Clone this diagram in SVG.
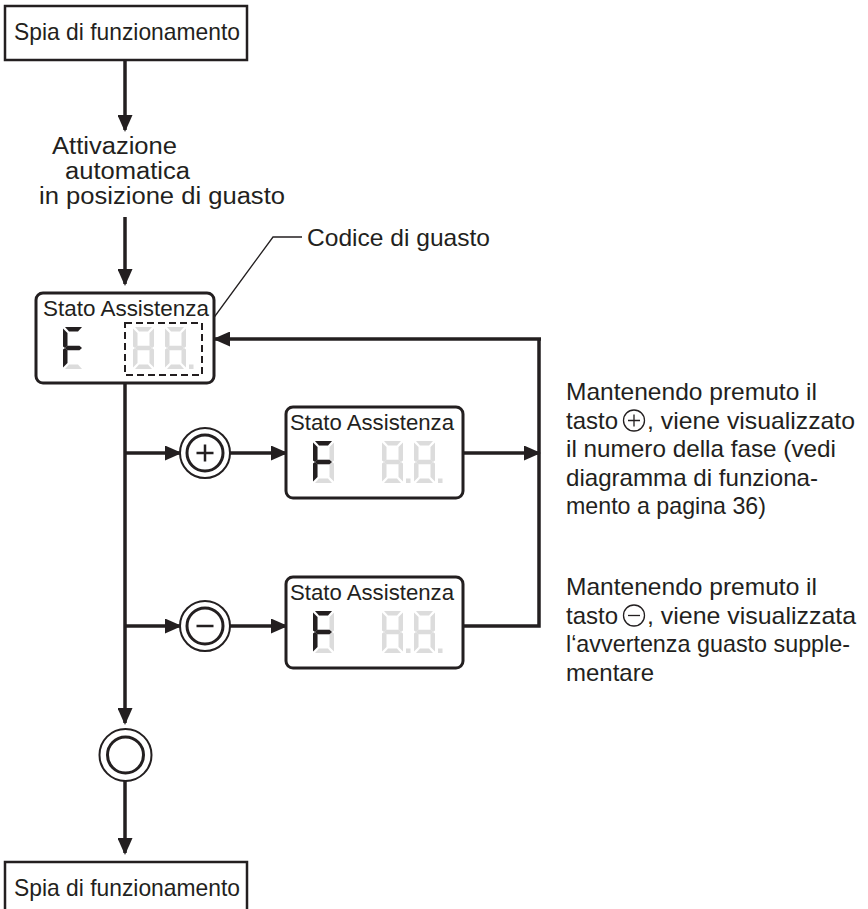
<svg xmlns="http://www.w3.org/2000/svg" xmlns:xlink="http://www.w3.org/1999/xlink" width="868" height="909" viewBox="0 0 868 909">
  <style>
    text { font-family: "Liberation Sans", Arial, sans-serif; fill: #231f20; }
    .lbl { font-size: 24px; }
    .lbl-s { font-size: 23px; }
    .disp { font-size: 22px; }
    .box { fill: #fff; stroke: #231f20; stroke-width: 2.5; }
    .panel { fill: #fff; stroke: #231f20; stroke-width: 3; }
    .wire { fill: none; stroke: #231f20; stroke-width: 3.5; }
    .arrow { fill: none; stroke: #231f20; stroke-width: 3.5; marker-end: url(#arr); }
    .ring { fill: #fff; stroke: #231f20; stroke-width: 2; }
    .ring-in { fill: none; stroke: #231f20; stroke-width: 3; }
    .thin { fill: none; stroke: #231f20; stroke-width: 1.3; }
    .dash { fill: none; stroke: #231f20; stroke-width: 2; stroke-dasharray: 7 4; }
    .on { fill: #231f20; }
    .off { fill: #dcdcdc; }
  </style>
  <defs>
    <marker id="arr" markerUnits="userSpaceOnUse" markerWidth="17" markerHeight="15" refX="15" refY="7.5" orient="auto">
      <path d="M0,0 L17,7.5 L0,15 Z" fill="#231f20"/>
    </marker>
    <!-- seven-segment elements, digit cell 21 x 42 -->
    <polygon id="sa" points="2,0 19,0 15,4.5 6,4.5"/>
    <polygon id="sb" points="21,1.5 21,19.5 19,21 16.5,19 16.5,6"/>
    <polygon id="sc" points="21,22.5 21,40.5 16.5,36 16.5,23 19,21"/>
    <polygon id="sd" points="6,37.5 15,37.5 19,42 2,42"/>
    <polygon id="se" points="0,22.5 2,21 4.5,23 4.5,36 0,40.5"/>
    <polygon id="sf" points="0,1.5 4.5,6 4.5,19 2,21 0,19.5"/>
    <polygon id="sg" points="2,21 4.5,18.7 16.5,18.7 19,21 16.5,23.3 4.5,23.3"/>
    <rect id="dp" x="24" y="37.5" width="4.5" height="4.5"/>
    <g id="d8">
      <use xlink:href="#sa"/><use xlink:href="#sb"/><use xlink:href="#sc"/><use xlink:href="#sd"/>
      <use xlink:href="#se"/><use xlink:href="#sf"/><use xlink:href="#sg"/>
    </g>
    <g id="lit">
      <use xlink:href="#sa"/><use xlink:href="#sf"/><use xlink:href="#sg"/><use xlink:href="#se"/>
    </g>
    <!-- display panel: lit F followed by two blank digits with points -->
    <g id="panel">
      <rect class="panel" x="0" y="0" width="177" height="91" rx="7"/>
      <text class="disp" x="4" y="23" textLength="164" lengthAdjust="spacingAndGlyphs">Stato Assistenza</text>
      <g class="off">
        <use xlink:href="#d8" x="27" y="34"/>
        <use xlink:href="#d8" x="96" y="34"/>
        <use xlink:href="#dp" x="96" y="34"/>
        <use xlink:href="#d8" x="128" y="34"/>
        <use xlink:href="#dp" x="128" y="34"/>
      </g>
      <g class="on" transform="translate(27 34)"><use xlink:href="#lit"/></g>
    </g>
  </defs>

  <!-- connectors -->
  <g id="connectors">
    <line class="arrow" x1="125" y1="60" x2="125" y2="130"/>
    <line class="arrow" x1="125" y1="217" x2="125" y2="284"/>
    <line class="arrow" x1="125" y1="383" x2="125" y2="723"/>
    <line class="arrow" x1="125" y1="781" x2="125" y2="853"/>
    <line class="arrow" x1="125" y1="453" x2="180" y2="453"/>
    <line class="arrow" x1="230" y1="453" x2="286" y2="453"/>
    <line class="arrow" x1="463" y1="453" x2="539" y2="453"/>
    <line class="arrow" x1="125" y1="626" x2="180" y2="626"/>
    <line class="arrow" x1="230" y1="626" x2="286" y2="626"/>
    <polyline class="wire" points="463,626 539,626 539,339"/>
    <line class="arrow" x1="541" y1="339" x2="215" y2="339"/>
    <polyline class="thin" points="302,237 273,237 196,342"/>
  </g>

  <!-- start state -->
  <g id="start">
    <rect class="box" x="5" y="6" width="242" height="54"/>
    <text class="lbl" x="14" y="40" textLength="226" lengthAdjust="spacingAndGlyphs">Spia di funzionamento</text>
  </g>

  <g id="auto-label">
    <text class="lbl-s" x="52" y="154" textLength="125" lengthAdjust="spacingAndGlyphs">Attivazione</text>
    <text class="lbl-s" x="65" y="179" textLength="125" lengthAdjust="spacingAndGlyphs">automatica</text>
    <text class="lbl-s" x="39" y="204" textLength="246" lengthAdjust="spacingAndGlyphs">in posizione di guasto</text>
  </g>

  <!-- fault display -->
  <g id="fault-display">
    <rect class="panel" x="36" y="293" width="178" height="90" rx="7"/>
    <text class="disp" x="43" y="316" textLength="166" lengthAdjust="spacingAndGlyphs">Stato Assistenza</text>
    <g transform="translate(63 327)">
      <use class="on" xlink:href="#lit"/>
      <use class="off" xlink:href="#sd"/>
    </g>
    <g class="off">
      <use xlink:href="#d8" x="133" y="327"/>
      <use xlink:href="#d8" x="165" y="327"/>
      <use xlink:href="#dp" x="165" y="327"/>
    </g>
    <rect class="dash" x="125" y="323" width="77" height="52"/>
  </g>

  <g id="fault-code-label">
    <text class="lbl" x="307" y="246" textLength="183" lengthAdjust="spacingAndGlyphs">Codice di guasto</text>
  </g>

  <!-- plus key -->
  <g id="key-plus">
    <circle class="ring" cx="205" cy="453" r="25"/>
    <circle class="ring-in" cx="205" cy="453" r="18"/>
    <path d="M196.5,453 H213.5 M205,444.5 V461.5" stroke="#231f20" stroke-width="2.5"/>
  </g>
  <g id="display-plus">
    <use xlink:href="#panel" x="286" y="407"/>
  </g>

  <!-- minus key -->
  <g id="key-minus">
    <circle class="ring" cx="205" cy="626" r="25"/>
    <circle class="ring-in" cx="205" cy="626" r="18"/>
    <path d="M196.5,626 H213.5" stroke="#231f20" stroke-width="2.5"/>
  </g>
  <g id="display-minus">
    <use xlink:href="#panel" x="286" y="577"/>
  </g>

  <!-- exit key -->
  <g id="key-exit">
    <circle class="ring" cx="125.5" cy="755" r="26"/>
    <circle class="ring-in" cx="125.5" cy="755" r="18"/>
  </g>

  <!-- end state -->
  <g id="end">
    <rect class="box" x="5" y="862" width="242" height="55"/>
    <text class="lbl" x="14" y="896" textLength="226" lengthAdjust="spacingAndGlyphs">Spia di funzionamento</text>
  </g>

  <!-- notes -->
  <g id="note-plus">
    <text class="lbl" x="566" y="400" textLength="251" lengthAdjust="spacingAndGlyphs">Mantenendo premuto il</text>
    <text class="lbl" x="566" y="428.5">tasto</text>
    <circle class="thin" cx="634" cy="420.5" r="10.5"/>
    <path d="M628,420.5 H640 M634,414.5 V426.5" stroke="#231f20" stroke-width="1.3"/>
    <text class="lbl" x="647" y="428.5" textLength="208" lengthAdjust="spacingAndGlyphs">, viene visualizzato</text>
    <text class="lbl" x="566" y="457" textLength="270" lengthAdjust="spacingAndGlyphs">il numero della fase (vedi</text>
    <text class="lbl" x="566" y="485.5" textLength="252" lengthAdjust="spacingAndGlyphs">diagramma di funziona-</text>
    <text class="lbl" x="566" y="514" textLength="200" lengthAdjust="spacingAndGlyphs">mento a pagina 36)</text>
  </g>
  <g id="note-minus">
    <text class="lbl" x="566" y="595" textLength="251" lengthAdjust="spacingAndGlyphs">Mantenendo premuto il</text>
    <text class="lbl" x="566" y="623.5">tasto</text>
    <circle class="thin" cx="634" cy="615.5" r="10.5"/>
    <path d="M628,615.5 H640" stroke="#231f20" stroke-width="1.3"/>
    <text class="lbl" x="647" y="623.5" textLength="209" lengthAdjust="spacingAndGlyphs">, viene visualizzata</text>
    <text class="lbl" x="566" y="652" textLength="284" lengthAdjust="spacingAndGlyphs">l‘avvertenza guasto supple-</text>
    <text class="lbl" x="566" y="680.5" textLength="88" lengthAdjust="spacingAndGlyphs">mentare</text>
  </g>
</svg>
